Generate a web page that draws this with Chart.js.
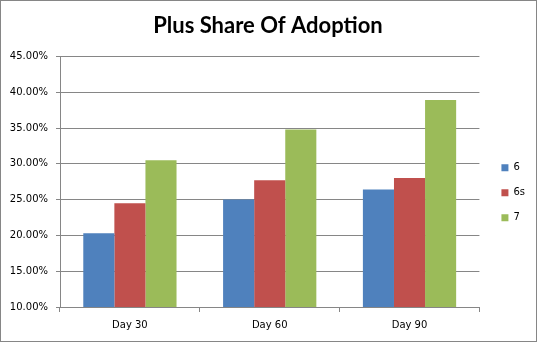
<!DOCTYPE html>
<html lang="en">
<head>
  <meta charset="UTF-8">
  <title>Plus Share Of Adoption</title>
  <script src="https://cdn.jsdelivr.net/npm/chart.js"></script>
  <style>
    body { margin: 0; background: #fff; }
    .chart-box { position: relative; width: 535px; height: 340px; border: 1px solid #868686; background: #fff; }
  </style>
</head>
<body>
  <div class="chart-box">
    <canvas id="adoptionChart"></canvas>
  </div>

  <script>
    // values (percent)
    const days = ['Day 30', 'Day 60', 'Day 90'];
    const share6 = [20.3, 25.0, 26.4];
    const share6s = [24.5, 27.7, 28.0];
    const share7 = [30.5, 34.8, 38.9];

    const gridColor = '#868686';
    const tickFont = { family: 'DejaVu Sans', size: 10 };

    const ctx = document.getElementById('adoptionChart').getContext('2d');
    const adoptionChart = new Chart(ctx, {
      type: 'bar',
      data: {
        labels: days,
        datasets: [
          { label: '6', data: share6, backgroundColor: '#4F81BD' },
          { label: '6s', data: share6s, backgroundColor: '#C0504D' },
          { label: '7', data: share7, backgroundColor: '#9BBB59' }
        ]
      },
      options: {
        responsive: true,
        maintainAspectRatio: false,
        animation: false,
        categoryPercentage: 0.667,
        barPercentage: 1,
        layout: { padding: { left: 0, right: 1, top: 0, bottom: 0 } },
        plugins: {
          title: {
            display: true,
            text: 'Plus Share Of Adoption',
            color: '#000',
            font: { family: 'Lato', size: 22, weight: 'bold' },
            padding: { top: 12, bottom: 17 }
          },
          legend: {
            position: 'right',
            fullSize: false,
            title: { display: true, text: ' ', font: { size: 10 }, padding: { top: 5, bottom: 5 } },
            labels: {
              boxWidth: 7,
              boxHeight: 7,
              padding: 15,
              color: '#000',
              font: tickFont
            }
          },
          tooltip: { enabled: false }
        },
        scales: {
          x: {
            grid: { drawOnChartArea: false, drawTicks: true, tickLength: 5, offset: true, color: gridColor },
            border: { color: gridColor },
            ticks: { color: '#000', font: tickFont, padding: 7 },
            afterFit: (scale) => { scale.height = 34; }
          },
          y: {
            min: 10,
            max: 45,
            grid: { color: gridColor, tickLength: 4 },
            border: { color: gridColor },
            ticks: {
              stepSize: 5,
              color: '#000',
              font: tickFont,
              padding: 8,
              callback: (v) => v.toFixed(2) + '%'
            },
            afterFit: (scale) => { scale.width = 59; }
          },
          gap: {
            type: 'linear',
            position: 'right',
            grid: { display: false },
            border: { display: false },
            ticks: { display: false },
            afterFit: (scale) => { scale.width = 7; }
          }
        }
      }
    });
  </script>
</body>
</html>
